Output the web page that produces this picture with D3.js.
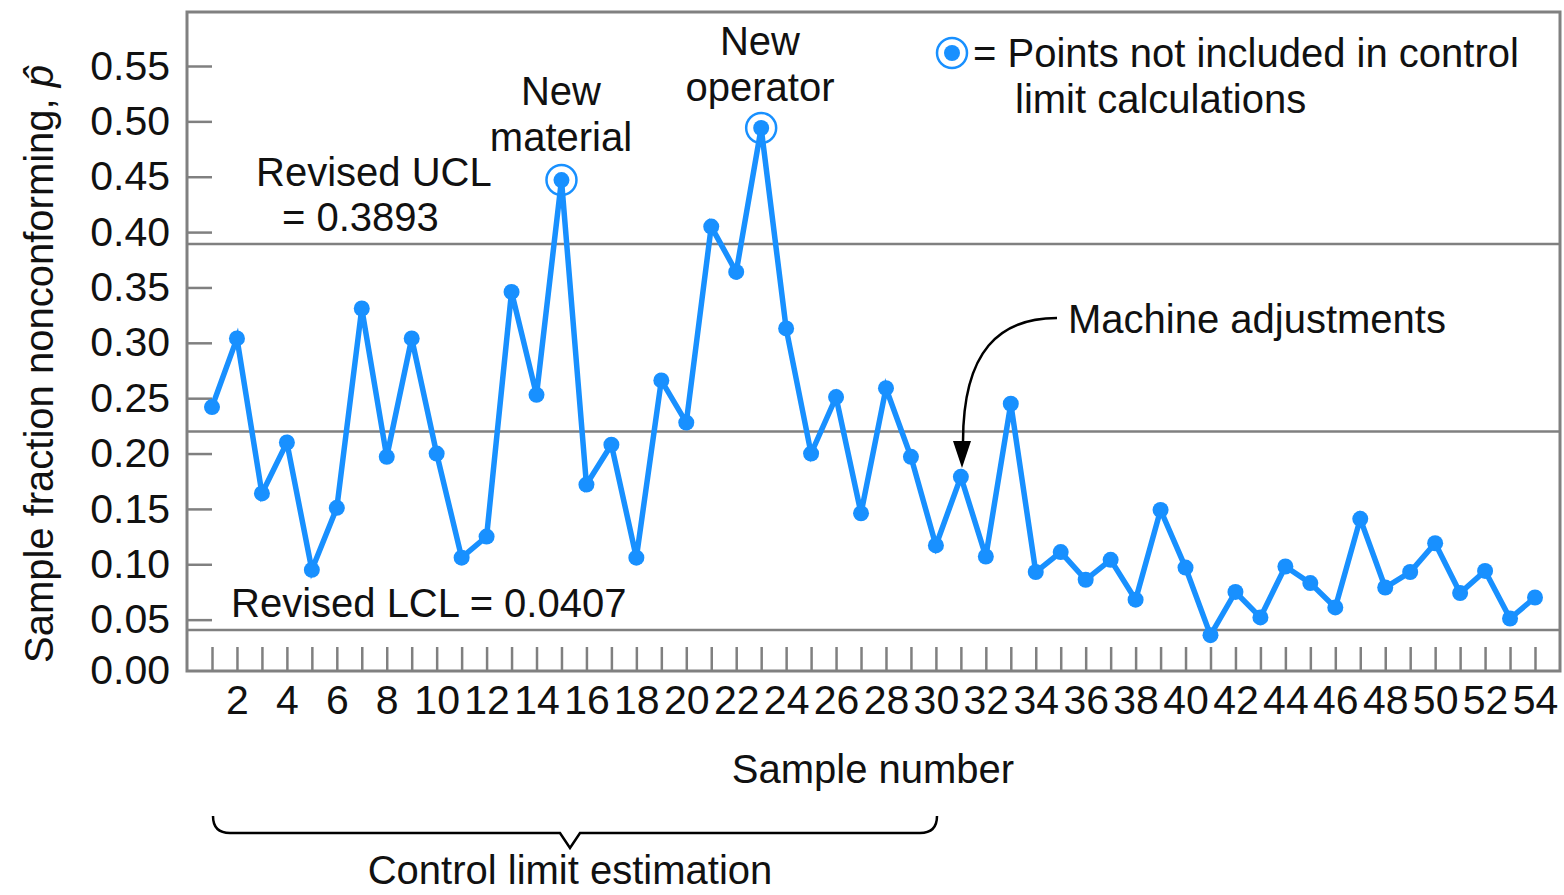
<!DOCTYPE html>
<html>
<head>
<meta charset="utf-8">
<script src="https://cdn.jsdelivr.net/npm/d3@7"></script>
<style>
  body { margin: 0; background: #fff; }
  text { font-family: "Liberation Sans", Arial, sans-serif; fill: #111; }
</style>
</head>
<body>
<div class="panel"></div>
<script>
// fraction nonconforming for samples 1..54
const fractions = [
  0.242, 0.304, 0.164, 0.210, 0.095, 0.151, 0.331, 0.197, 0.304, 0.200,
  0.106, 0.125, 0.346, 0.253, 0.447, 0.172, 0.208, 0.106, 0.266, 0.228,
  0.405, 0.364, 0.494, 0.313, 0.200, 0.251, 0.146, 0.259, 0.197, 0.117,
  0.179, 0.107, 0.245, 0.093, 0.111, 0.086, 0.104, 0.068, 0.149, 0.097,
  0.036, 0.075, 0.052, 0.098, 0.083, 0.061, 0.141, 0.079, 0.093, 0.119,
  0.074, 0.094, 0.051, 0.070
];
const excluded = [15, 23];
const yTicks = [0, 0.05, 0.10, 0.15, 0.20, 0.25, 0.30, 0.35, 0.40, 0.45, 0.50, 0.55];
const ucl = 0.3893;
const centerLine = 0.22;
const lcl = 0.0407;

const width = 1564;
const height = 895;
const blue = "#1890ff";
const gray = "#808080";

const svg = d3.select(".panel")
  .append("svg")
  .attr("width", width)
  .attr("height", height);

const plotL = 187, plotR = 1560, plotT = 12, plotB = 671;

const xScale = d3.scaleLinear().domain([1, 54]).range([212, 1535]);
const yScale = d3.scaleLinear().domain([0, 0.55]).range([675, 66]);

// frame
svg.append("rect")
  .attr("x", plotL).attr("y", plotT)
  .attr("width", plotR - plotL).attr("height", plotB - plotT)
  .attr("fill", "none").attr("stroke", gray).attr("stroke-width", 3);

// x axis, ticks pointing inward
const xAxis = d3.axisBottom(xScale)
  .tickValues(d3.range(1, 55))
  .tickSizeInner(-24).tickSizeOuter(0).tickPadding(14)
  .tickFormat(d => d % 2 === 0 ? d : "");
const gx = svg.append("g").attr("transform", `translate(0,${plotB})`).call(xAxis);
gx.select(".domain").remove();
gx.selectAll(".tick line").attr("stroke", gray).attr("stroke-width", 2.5);
gx.selectAll(".tick text").attr("font-size", 41).attr("font-family", "Liberation Sans").attr("fill", "#111");

// y axis
const yAxis = d3.axisLeft(yScale)
  .tickValues(yTicks)
  .tickSizeInner(-25).tickSizeOuter(0).tickPadding(17)
  .tickFormat(d3.format(".2f"));
const gy = svg.append("g").attr("transform", `translate(${plotL},0)`).call(yAxis);
gy.select(".domain").remove();
gy.selectAll(".tick line").attr("stroke", gray).attr("stroke-width", 2.5)
  .attr("display", d => d === 0 ? "none" : null);
gy.selectAll(".tick text").attr("font-size", 41).attr("font-family", "Liberation Sans").attr("fill", "#111")
  .attr("dy", d => d === 0 ? "0.2em" : "0.32em");

// control lines
[ucl, centerLine, lcl].forEach(v => {
  svg.append("line")
    .attr("x1", plotL).attr("x2", plotR)
    .attr("y1", yScale(v)).attr("y2", yScale(v))
    .attr("stroke", gray).attr("stroke-width", 2.5);
});

// series
const line = d3.line()
  .x((d, i) => xScale(i + 1))
  .y(d => yScale(d));

svg.append("path")
  .datum(fractions)
  .attr("d", line)
  .attr("fill", "none")
  .attr("stroke", blue)
  .attr("stroke-width", 5.5)
  .attr("stroke-linejoin", "miter");

svg.selectAll(".pt")
  .data(fractions)
  .join("circle")
  .attr("class", "pt")
  .attr("cx", (d, i) => xScale(i + 1))
  .attr("cy", d => yScale(d))
  .attr("r", 8)
  .attr("fill", blue);

svg.selectAll(".ring")
  .data(excluded)
  .join("circle")
  .attr("class", "ring")
  .attr("cx", d => xScale(d))
  .attr("cy", d => yScale(fractions[d - 1]))
  .attr("r", 15)
  .attr("fill", "none")
  .attr("stroke", blue)
  .attr("stroke-width", 2.5);

// legend
svg.append("circle").attr("cx", 952).attr("cy", 53).attr("r", 15)
  .attr("fill", "none").attr("stroke", blue).attr("stroke-width", 2.5);
svg.append("circle").attr("cx", 952).attr("cy", 53).attr("r", 8).attr("fill", blue);

function label(x, y, txt, anchor) {
  svg.append("text")
    .attr("x", x).attr("y", y)
    .attr("font-size", 40)
    .attr("text-anchor", anchor || "start")
    .text(txt);
}

label(973, 67, "= Points not included in control");
label(1015, 113, "limit calculations");

label(561, 105, "New", "middle");
label(561, 151, "material", "middle");
label(760, 55, "New", "middle");
label(760, 101, "operator", "middle");

label(256, 186, "Revised UCL");
label(282, 231, "= 0.3893");
label(231, 617, "Revised LCL = 0.0407");
label(1068, 333, "Machine adjustments");

// arrow to sample 31
svg.append("path")
  .attr("d", "M1057,318 C1000,318 963,350 963,442")
  .attr("fill", "none").attr("stroke", "#000").attr("stroke-width", 2.5);
svg.append("path")
  .attr("d", "M953,441 L971,441 L962,468 Z")
  .attr("fill", "#000");

// axis titles
label(873, 783, "Sample number", "middle");
svg.append("text")
  .attr("transform", "translate(53,364) rotate(-90)")
  .attr("text-anchor", "middle")
  .attr("font-size", 40)
  .html("Sample fraction nonconforming, <tspan font-style='italic'>p&#770;</tspan>");

// brace under control limit estimation
svg.append("path")
  .attr("d", "M213,816 Q213,833 230,833 L560,833 L570,848 L580,833 L920,833 Q937,833 937,816")
  .attr("fill", "none").attr("stroke", "#000").attr("stroke-width", 2.5);

label(570, 884, "Control limit estimation", "middle");
</script>
</body>
</html>
